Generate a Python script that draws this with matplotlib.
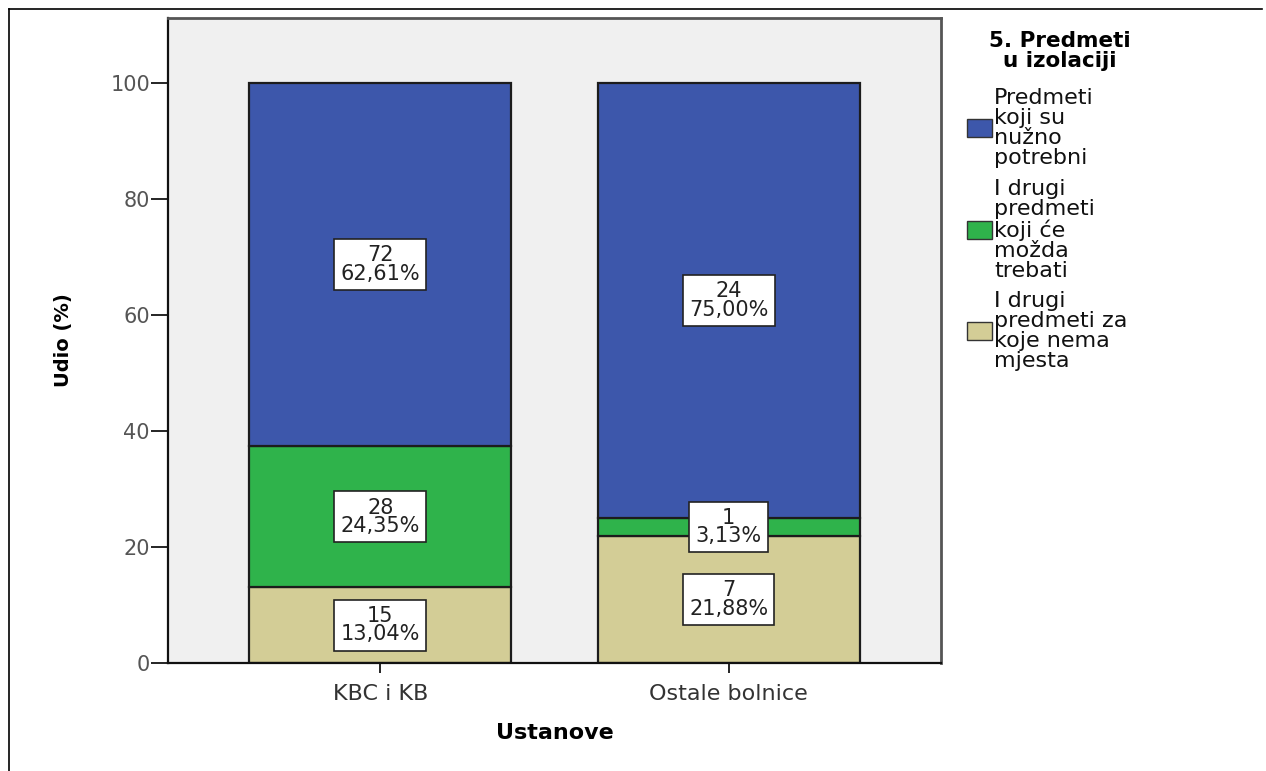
import matplotlib
matplotlib.use('Agg')
import matplotlib.pyplot as plt
from matplotlib.patches import Rectangle
from matplotlib.lines import Line2D
import numpy as np

plt.rcParams['font.family'] = ['DejaVu Sans']

groups = ['KBC i KB', 'Ostale bolnice']
# stacked from the bottom: tan, green, blue
series = ['I drugi\npredmeti za\nkoje nema\nmjesta',
          'I drugi\npredmeti\nkoji će\nmožda\ntrebati',
          'Predmeti\nkoji su\nnužno\npotrebni']
counts = [[15, 7],
          [28, 1],
          [72, 24]]
pcts = [[13.04, 21.88],
        [24.35, 3.13],
        [62.61, 75.00]]
colors = ['#d3cd96', '#2fb34b', '#3d57ab']
legend_title = '5. Predmeti\nu izolaciji'

fig = plt.figure(figsize=(12.66, 7.71), dpi=100)
ax = fig.add_axes([0.1327, 0.1401, 0.6106, 0.8366])
ax.set_facecolor('#f0f0f0')

x = np.arange(len(groups))
bottom = np.zeros(len(groups))
for i in range(len(series)):
    vals = np.array(pcts[i])
    ax.bar(x, vals, 0.752, bottom=bottom, color=colors[i],
           edgecolor='#1c1c1c', linewidth=1.6, zorder=2)
    for j in range(len(groups)):
        lab = '%d\n%s%%' % (counts[i][j], ('%.2f' % pcts[i][j]).replace('.', ','))
        ax.text(x[j], bottom[j] + vals[j] / 2, lab, ha='center', va='center',
                fontsize=15, color='#222222', linespacing=0.9, zorder=4,
                bbox=dict(boxstyle='square,pad=0.3', fc='white', ec='#222222', lw=1.2))
    bottom = bottom + vals

ax.set_xlim(-0.61, 1.61)
ax.set_ylim(0, 111.2)
ax.set_xticks(x)
ax.set_xticklabels(groups, fontsize=16, color='#333333')
ax.set_yticks([0, 20, 40, 60, 80, 100])
ax.tick_params(axis='y', length=12, width=1.2, pad=1, labelsize=15, labelcolor='#555555')
ax.tick_params(axis='x', length=7, width=1.2, pad=8)
ax.set_xlabel('Ustanove', fontsize=16, fontweight='bold', labelpad=14)
ax.set_ylabel('Udio (%)', fontsize=14, fontweight='bold', labelpad=27)
for s in ['left', 'bottom']:
    ax.spines[s].set_color('#111111')
    ax.spines[s].set_linewidth(1.6)
for s in ['top', 'right']:
    ax.spines[s].set_color('#555555')
    ax.spines[s].set_linewidth(2)

# legend drawn by hand on the right
W, H = 1266.0, 771.0
fig.text(1060 / W, 1 - 51 / H, legend_title, ha='center', va='center',
         fontsize=15.5, fontweight='bold', linespacing=1.05)
patch_y = [331, 230, 128]
for i in range(len(series)):
    yc = 1 - patch_y[i] / H
    fig.patches.append(Rectangle((967 / W, yc - 9 / H), 25 / W, 18 / H,
                                 transform=fig.transFigure, facecolor=colors[i],
                                 edgecolor='#333333', linewidth=1))
    fig.text(994 / W, yc, series[i], ha='left', va='center', fontsize=16,
             linespacing=1.0, color='#111111')

# outer frame lines
fig.add_artist(Line2D([9 / W, 1262 / W], [1 - 9 / H, 1 - 9 / H], color='black', lw=1.2))
fig.add_artist(Line2D([9 / W, 9 / W], [0, 1 - 9 / H], color='black', lw=1.2))

fig.savefig('out.png', dpi=100)
